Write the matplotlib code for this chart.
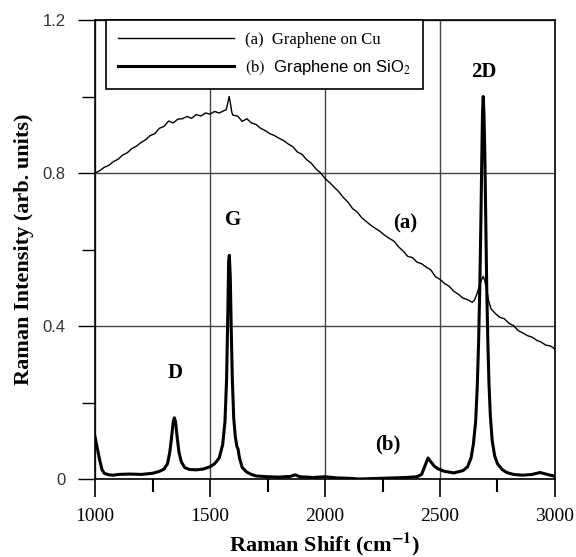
import matplotlib
matplotlib.use("Agg")
import matplotlib.pyplot as plt
from matplotlib.ticker import MultipleLocator, FixedLocator

plt.rcParams['mathtext.fontset'] = 'stix'

# (a) Graphene on Cu
cu_shift = [1000, 1020, 1040, 1060, 1080, 1100, 1120, 1140, 1160, 1180,
            1200, 1220, 1240, 1260, 1280, 1300, 1320, 1340, 1360, 1380,
            1400, 1420, 1440, 1460, 1480, 1500, 1520, 1540, 1560, 1570,
            1578, 1583, 1588, 1595, 1600, 1620, 1640, 1660, 1680, 1700,
            1720, 1740, 1760, 1780, 1800, 1820, 1840, 1860, 1880, 1900,
            1920, 1940, 1960, 1980, 2000, 2020, 2040, 2060, 2080, 2100,
            2120, 2140, 2160, 2180, 2200, 2220, 2240, 2260, 2280, 2300,
            2320, 2340, 2360, 2380, 2400, 2420, 2440, 2460, 2480, 2500,
            2520, 2540, 2560, 2580, 2600, 2620, 2640, 2650, 2660, 2670,
            2680, 2688, 2695, 2703, 2712, 2722, 2740, 2760, 2780, 2800,
            2820, 2840, 2860, 2880, 2900, 2920, 2940, 2960, 2980, 3000]
cu_int = [0.800, 0.806, 0.815, 0.820, 0.830, 0.836, 0.847, 0.853, 0.864, 0.870,
          0.880, 0.887, 0.898, 0.903, 0.917, 0.922, 0.936, 0.931, 0.941, 0.942,
          0.948, 0.943, 0.953, 0.949, 0.957, 0.954, 0.961, 0.957, 0.963, 0.965,
          0.985, 1.000, 0.985, 0.958, 0.951, 0.949, 0.935, 0.942, 0.931, 0.927,
          0.917, 0.911, 0.903, 0.898, 0.891, 0.885, 0.876, 0.869, 0.855, 0.849,
          0.835, 0.826, 0.811, 0.801, 0.786, 0.775, 0.763, 0.751, 0.736, 0.724,
          0.707, 0.698, 0.683, 0.673, 0.663, 0.655, 0.647, 0.637, 0.629, 0.622,
          0.607, 0.596, 0.582, 0.579, 0.567, 0.563, 0.554, 0.547, 0.529, 0.522,
          0.511, 0.504, 0.491, 0.483, 0.473, 0.469, 0.462, 0.468, 0.483, 0.502,
          0.520, 0.530, 0.518, 0.495, 0.465, 0.445, 0.433, 0.423, 0.419, 0.407,
          0.401, 0.388, 0.382, 0.375, 0.371, 0.363, 0.358, 0.350, 0.348, 0.340]

# (b) Graphene on SiO2
si_shift = [1000, 1010, 1020, 1030, 1040, 1060, 1080, 1100, 1150, 1200,
            1250, 1280, 1300, 1315, 1325, 1333, 1340, 1345, 1350, 1357,
            1365, 1375, 1390, 1410, 1440, 1470, 1500, 1520, 1540, 1555,
            1565, 1572, 1577, 1581, 1584, 1588, 1592, 1597, 1603, 1610,
            1617, 1622, 1628, 1640, 1660, 1680, 1700, 1750, 1800, 1850,
            1870, 1890, 1950, 2000, 2050, 2100, 2150, 2200, 2250, 2300,
            2350, 2400, 2420, 2435, 2448, 2460, 2475, 2490, 2520, 2560,
            2600, 2620, 2635, 2645, 2655, 2662, 2668, 2673, 2678, 2682,
            2685, 2688, 2691, 2695, 2699, 2703, 2708, 2713, 2719, 2727,
            2738, 2750, 2770, 2790, 2820, 2860, 2900, 2935, 2960, 3000]
si_int = [0.110, 0.080, 0.050, 0.025, 0.015, 0.011, 0.010, 0.012, 0.013, 0.012,
          0.015, 0.020, 0.026, 0.040, 0.070, 0.110, 0.150, 0.160, 0.150, 0.110,
          0.070, 0.045, 0.030, 0.025, 0.024, 0.026, 0.032, 0.040, 0.055, 0.090,
          0.150, 0.260, 0.420, 0.570, 0.585, 0.530, 0.400, 0.260, 0.160, 0.110,
          0.085, 0.078, 0.055, 0.030, 0.018, 0.012, 0.008, 0.006, 0.005, 0.007,
          0.011, 0.006, 0.004, 0.006, 0.003, 0.002, 0.000, 0.001, 0.002, 0.003,
          0.004, 0.006, 0.012, 0.035, 0.055, 0.045, 0.034, 0.027, 0.020, 0.016,
          0.022, 0.032, 0.055, 0.090, 0.150, 0.240, 0.360, 0.500, 0.680, 0.850,
          0.960, 1.000, 0.960, 0.850, 0.680, 0.510, 0.360, 0.250, 0.165, 0.100,
          0.060, 0.040, 0.025, 0.017, 0.012, 0.010, 0.012, 0.017, 0.013, 0.007]

peak_labels = ['D', 'G', '2D', '(a)', '(b)']
peak_pos = [(1348, 0.277), (1600, 0.677), (2691, 1.064), (2348, 0.667), (2274, 0.089)]

fig = plt.figure(figsize=(5.76, 5.57), dpi=100)
ax = fig.add_axes([0.165, 0.140, 0.7985, 0.824])

l1, = ax.plot(cu_shift, cu_int, color='black', lw=1.0)
l2, = ax.plot(si_shift, si_int, color='black', lw=2.2)

ax.set_xlim(1000, 3000)
ax.set_ylim(0, 1.2)
ax.xaxis.set_major_locator(MultipleLocator(500))
ax.xaxis.set_minor_locator(FixedLocator([1250, 1750, 2250, 2750]))
ax.yaxis.set_major_locator(FixedLocator([0, 0.4, 0.8, 1.2]))
ax.yaxis.set_minor_locator(FixedLocator([0.2, 0.6, 1.0]))
ax.set_yticklabels(['0', '0.4', '0.8', '1.2'])

ax.tick_params(axis='x', which='major', direction='out', length=13, width=1.2, pad=8)
ax.tick_params(axis='x', which='minor', direction='out', length=9.5, width=1.5)
ax.tick_params(axis='y', which='major', direction='out', length=12, width=1.0, pad=9)
ax.tick_params(axis='y', which='minor', direction='out', length=9.5, width=1.0)
for t in ax.get_xticklabels():
    t.set_fontfamily('Liberation Serif')
    t.set_fontsize(14)
for t in ax.get_yticklabels():
    t.set_fontfamily('Liberation Sans')
    t.set_fontsize(12)
    t.set_color('#333333')

ax.grid(True, which='major', color='#444444', lw=1.0)
for s in ax.spines.values():
    s.set_linewidth(1.2)

ax.set_xlabel(r'Raman Shift (cm$^{\mathbf{-1}}$)', fontfamily='Liberation Serif',
              fontweight='bold', fontsize=16, labelpad=4)
ax.set_ylabel('Raman Intensity (arb. units)', fontfamily='Liberation Serif',
              fontweight='bold', fontsize=16, labelpad=6)

for lab, (px, py) in zip(peak_labels, peak_pos):
    ax.text(px, py, lab, ha='center', va='center', fontfamily='Liberation Serif',
            fontweight='bold', fontsize=15)

leg = ax.legend([l1, l2],
                ['(a)  Graphene on Cu', r'$\mathrm{(b)}$  Graphene on SiO$_2$'],
                loc='upper left', bbox_to_anchor=(0.024, 1.0), borderaxespad=0,
                fontsize=12, handlelength=7.0, handletextpad=0.65,
                borderpad=0.7, labelspacing=0.6, fancybox=False, framealpha=1)
leg.get_frame().set_edgecolor('black')
leg.get_frame().set_linewidth(1.2)
txts = leg.get_texts()
txts[0].set_fontfamily('Liberation Serif')
txts[1].set_fontfamily('Liberation Sans')

fig.savefig('out.png', dpi=100)
